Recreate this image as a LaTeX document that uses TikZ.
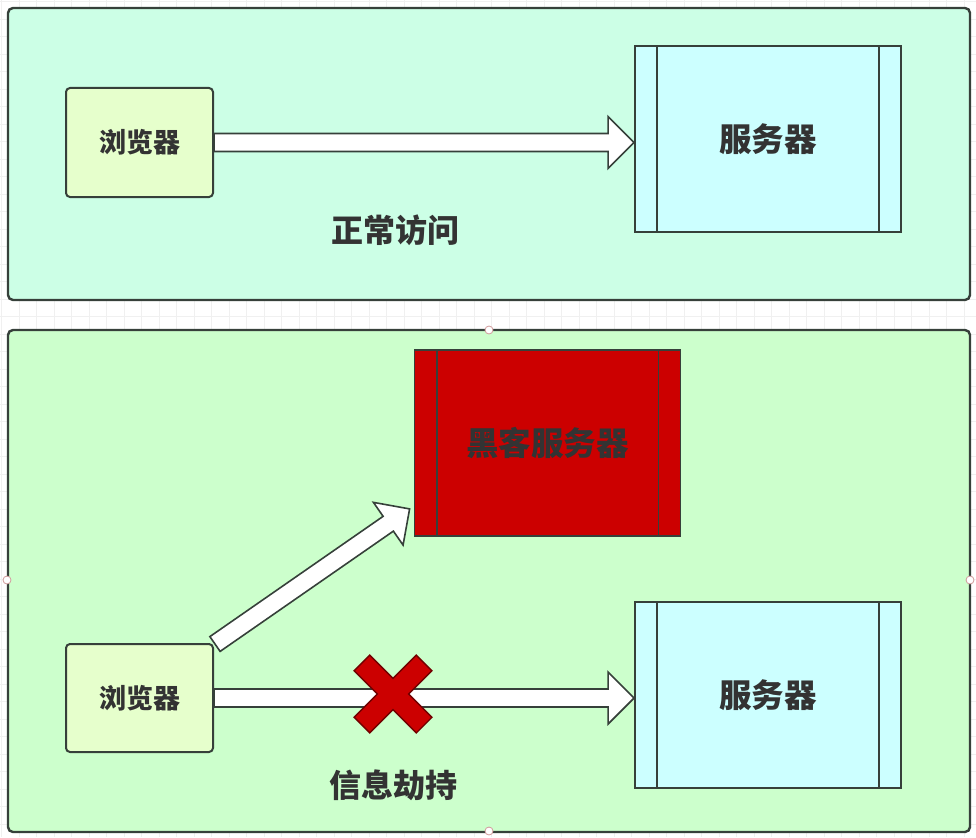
\documentclass[tikz,border=0pt]{standalone}
\usepackage{fontspec}
\newfontfamily\cjk{Noto Sans CJK SC}
\usetikzlibrary{calc}
\definecolor{edge}{HTML}{36403A}
\definecolor{txt}{HTML}{333333}
\definecolor{mint}{HTML}{CCFFE6}
\definecolor{lgreen}{HTML}{CCFFCC}
\definecolor{lime}{HTML}{E6FFCC}
\definecolor{cyanbox}{HTML}{CCFFFF}
\definecolor{hackred}{HTML}{CC0000}
\definecolor{gridc}{HTML}{F0F0F0}
\definecolor{handle}{HTML}{D09A9A}
\tikzset{
  panel/.style={draw=edge, line width=2.4pt, rounded corners=5pt},
  browser/.style={draw=edge, line width=2pt, fill=lime, rounded corners=4pt,
    minimum width=147pt, minimum height=109pt, inner sep=0pt,
    font=\cjk\bfseries\fontsize{27}{32}\selectfont, text=txt},
  server/.style={draw=edge, line width=1.8pt, fill=cyanbox,
    minimum width=266pt, minimum height=186pt, inner sep=0pt,
    font=\cjk\bfseries\fontsize{32.5}{38}\selectfont, text=txt},
  sideline/.style={draw=edge, line width=1.8pt},
  caption/.style={font=\cjk\bfseries\fontsize{32}{38}\selectfont, text=txt, inner sep=0pt},
  barrow/.style={draw=edge, line width=1.6pt, fill=white, line join=miter},
  xmark/.style={draw=hackred!55!black, line width=1.4pt, fill=hackred},
  handlept/.style={circle, draw=handle, fill=white, line width=0.8pt, minimum size=8pt, inner sep=0pt},
}
\newcommand{\blockarrow}[2]{%
  \coordinate (ba-h) at ($(#2)!26pt!(#1)$);
  \draw[barrow] ($(#1)!9pt!90:(#2)$) -- ($(ba-h)!9pt!-90:(#1)$) -- ($(ba-h)!26pt!-90:(#1)$)
    -- (#2) -- ($(ba-h)!26pt!90:(#1)$) -- ($(ba-h)!9pt!90:(#1)$) -- ($(#1)!9pt!-90:(#2)$) -- cycle;
}
\begin{document}
\begin{tikzpicture}[x=1pt, y=-1pt]
  % background and grid
  \fill[white] (0,0) rectangle (976,837);
  \useasboundingbox (0,0) rectangle (976,837);
  \foreach \g in {1.5,19,...,976} {\draw[gridc, line width=0.6pt] (\g,0) -- (\g,837);}
  \foreach \g in {1.5,19,...,837} {\draw[gridc, line width=0.6pt] (0,\g) -- (976,\g);}

  % panels
  \draw[panel, fill=mint] (8,8) rectangle (970,300);
  \draw[panel, fill=lgreen] (8,330) rectangle (970,832);

  % top scene
  \node[browser] (b1) at (139.5,142.5) {浏览器};
  \node[server] (s1) at (768,139) {服务器};
  \draw[sideline] ($(s1.north west)+(23,0)$) -- ($(s1.south west)+(23,0)$);
  \draw[sideline] ($(s1.north east)+(-23,0)$) -- ($(s1.south east)+(-23,0)$);
  \coordinate (ttail) at (b1.east);
  \coordinate (ttip) at (b1.east -| s1.west);
  \blockarrow{ttail}{ttip}
  \node[caption] (t1) at (395,230) {正常访问};

  % bottom scene
  \node[server, fill=hackred] (hk) at (547.5,443) {黑客服务器};
  \draw[sideline] ($(hk.north west)+(23,0)$) -- ($(hk.south west)+(23,0)$);
  \draw[sideline] ($(hk.north east)+(-23,0)$) -- ($(hk.south east)+(-23,0)$);
  \node[browser, minimum height=108pt] (b2) at (139.5,698) {浏览器};
  \node[server] (s2) at (768,695) {服务器};
  \draw[sideline] ($(s2.north west)+(23,0)$) -- ($(s2.south west)+(23,0)$);
  \draw[sideline] ($(s2.north east)+(-23,0)$) -- ($(s2.south east)+(-23,0)$);
  \coordinate (diagtail) at ($(b2.north east)+(1,1)$);
  \coordinate (diagtip) at ($(hk.south west)+(-4,-28)$);
  \blockarrow{diagtail}{diagtip}
  \coordinate (htail) at (b2.east);
  \coordinate (htip) at (b2.east -| s2.west);
  \blockarrow{htail}{htip}
  \node[caption] (t2) at (393,785) {信息劫持};

  % red cross
  \coordinate (xc) at (393,694);
  \begin{scope}[shift={(xc)}, rotate=45]
    \draw[xmark] (11,11) -- (11,44) -- (-11,44) -- (-11,11) -- (-44,11) -- (-44,-11)
      -- (-11,-11) -- (-11,-44) -- (11,-44) -- (11,-11) -- (44,-11) -- (44,11) -- cycle;
  \end{scope}

  % selection handles
  \node[handlept] (h1) at (489,330) {};
  \node[handlept] (h2) at (7,580) {};
  \node[handlept] (h3) at (970,580) {};
  \node[handlept] (h4) at (489,831) {};
\end{tikzpicture}
\end{document}
